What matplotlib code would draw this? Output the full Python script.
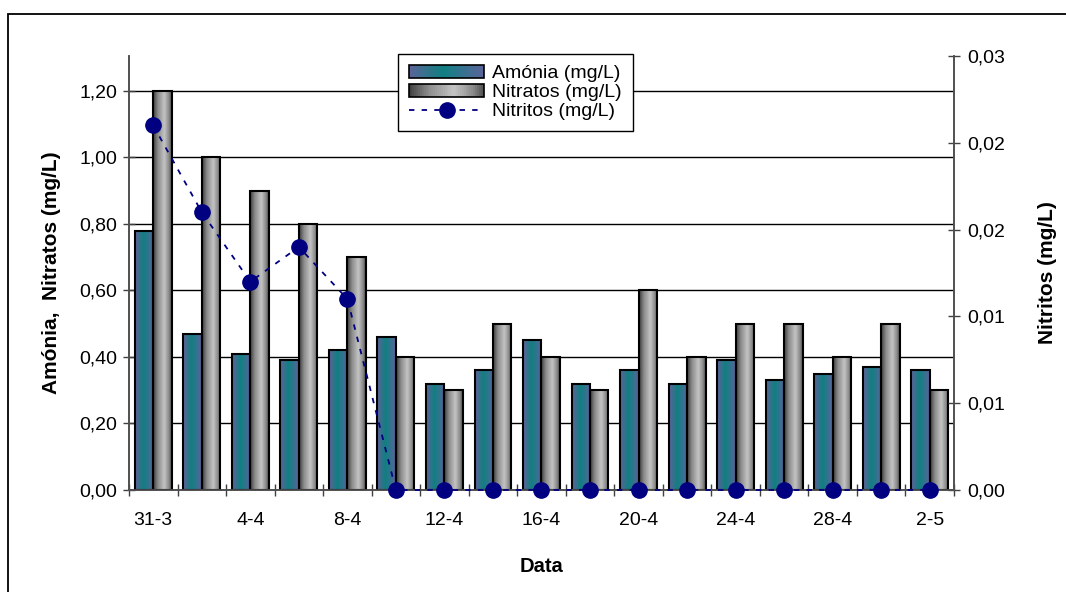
import matplotlib
matplotlib.use('Agg')
import matplotlib.pyplot as plt
import numpy as np
from matplotlib.colors import LinearSegmentedColormap
from matplotlib.patches import Rectangle, Patch
from matplotlib.lines import Line2D
from matplotlib.legend_handler import HandlerBase

plt.rcParams['font.family'] = ['Liberation Sans', 'DejaVu Sans']

# data
datas = ['31-3', '2-4', '4-4', '6-4', '8-4', '10-4', '12-4', '14-4', '16-4',
         '18-4', '20-4', '22-4', '24-4', '26-4', '28-4', '30-4', '2-5']
amonia = [0.78, 0.47, 0.41, 0.39, 0.42, 0.46, 0.32, 0.36, 0.45,
          0.32, 0.36, 0.32, 0.39, 0.33, 0.35, 0.37, 0.36]
nitratos = [1.20, 1.00, 0.90, 0.80, 0.70, 0.40, 0.30, 0.50, 0.40,
            0.30, 0.60, 0.40, 0.50, 0.50, 0.40, 0.50, 0.30]
nitritos = [0.021, 0.016, 0.012, 0.014, 0.011, 0, 0, 0, 0,
            0, 0, 0, 0, 0, 0, 0, 0]
right_labels = ['0,00', '0,01', '0,01', '0,02', '0,02', '0,03']

# excel style gradients
cmap_a = LinearSegmentedColormap.from_list('am', [(0, '#5e629a'), (0.45, '#0f8080'),
                                                  (0.6, '#23798a'), (1, '#5e629a')])
cmap_n = LinearSegmentedColormap.from_list('ni', [(0, '#3c3c3c'), (0.25, '#8a8a8a'),
                                                  (0.6, '#c4c4c4'), (0.85, '#8a8a8a'),
                                                  (1, '#4a4a4a')])


class GradHandler(HandlerBase):
    def __init__(self, cmap):
        HandlerBase.__init__(self)
        self.cmap = cmap

    def create_artists(self, legend, orig_handle, xdescent, ydescent, width, height, fontsize, trans):
        n = 40
        arts = []
        for i in range(n):
            arts.append(Rectangle((-xdescent + width * i / n, -ydescent), width / n, height,
                                  facecolor=self.cmap((i + 0.5) / n), edgecolor='none', transform=trans))
        arts.append(Rectangle((-xdescent, -ydescent), width, height, facecolor='none',
                              edgecolor='black', lw=1.2, transform=trans))
        return arts


fig = plt.figure(figsize=(10.66, 5.92), dpi=100)
ax = fig.add_axes([129 / 1066, 1 - 490 / 592, 825 / 1066, 434 / 592])
ax2 = ax.twinx()

x = np.arange(len(datas))
w = 0.38
grad = np.linspace(0, 1, 64).reshape(1, -1)
for vals, off, cm in [(amonia, -w / 2, cmap_a), (nitratos, w / 2, cmap_n)]:
    bars = ax.bar(x + off, vals, w, facecolor='none', edgecolor='black', lw=1.5, zorder=3)
    for p in bars:
        im = ax.imshow(grad, cmap=cm, extent=[p.get_x(), p.get_x() + p.get_width(), 0, p.get_height()],
                       aspect='auto', zorder=2, interpolation='bilinear')
        im.set_clip_path(p)

ax.set_xlim(-0.5, len(datas) - 0.5)
ax.set_ylim(0, 1.305)
ax.set_yticks(np.arange(0, 1.21, 0.2))
ax.set_yticklabels([('%.2f' % v).replace('.', ',') for v in np.arange(0, 1.21, 0.2)])
ax.yaxis.grid(True, color='black', lw=1)
ax.set_axisbelow(True)

ax.set_xticks(x[::2])
ax.set_xticklabels(datas[::2])
ax.set_xticks(np.arange(-0.5, len(datas), 1), minor=True)
ax.tick_params(axis='x', which='major', length=0, pad=16, labelsize=14)
ax.tick_params(axis='x', which='minor', direction='inout', length=9, width=1, color='#404040')
ax.tick_params(axis='y', direction='inout', length=9, width=1, color='#404040', labelsize=14, pad=4)

ax2.plot(x, nitritos, ls=(0, (3, 4)), color='#000080', lw=1.3, marker='o', ms=11,
         mfc='#000080', mec='#000080', clip_on=False, zorder=5)
ax2.set_ylim(0, 0.025)
ax2.set_yticks(np.arange(0, 0.0251, 0.005))
ax2.set_yticklabels(right_labels)
ax2.tick_params(axis='y', direction='inout', length=9, width=1, color='#404040', labelsize=14, pad=5)

for a in (ax, ax2):
    a.spines['top'].set_visible(False)
    for s in ('left', 'right', 'bottom'):
        a.spines[s].set_color('#505050')
        a.spines[s].set_linewidth(1.2)

ax.set_xlabel('Data', fontsize=14.5, fontweight='bold', labelpad=20)
ax.set_ylabel('Amónia,  Nitratos (mg/L)', fontsize=15, fontweight='bold', labelpad=13)
ax2.set_ylabel('Nitritos (mg/L)', fontsize=15, fontweight='bold', labelpad=24)

pa = Patch(label='Amónia (mg/L)')
pn = Patch(label='Nitratos (mg/L)')
ln = Line2D([], [], ls=(0, (3, 4)), color='#000080', lw=1.3, marker='o', ms=11,
            mfc='#000080', label='Nitritos (mg/L)')
leg = ax2.legend(handles=[pa, pn, ln], handler_map={pa: GradHandler(cmap_a), pn: GradHandler(cmap_n)},
                 loc='upper left', bbox_to_anchor=(0.326, 1.005), borderaxespad=0,
                 fontsize=14, frameon=True, fancybox=False, framealpha=1,
                 handlelength=3.9, handleheight=0.7, labelspacing=0.08, handletextpad=0.4,
                 borderpad=0.55, edgecolor='black')
leg.get_frame().set_linewidth(1)

# chart border
fig.patches.append(Rectangle((8 / 1066, -0.1), 1.1, 1.1 - 14 / 592, transform=fig.transFigure,
                             facecolor='none', edgecolor='black', lw=1.3))

plt.savefig('out.png', dpi=100)
